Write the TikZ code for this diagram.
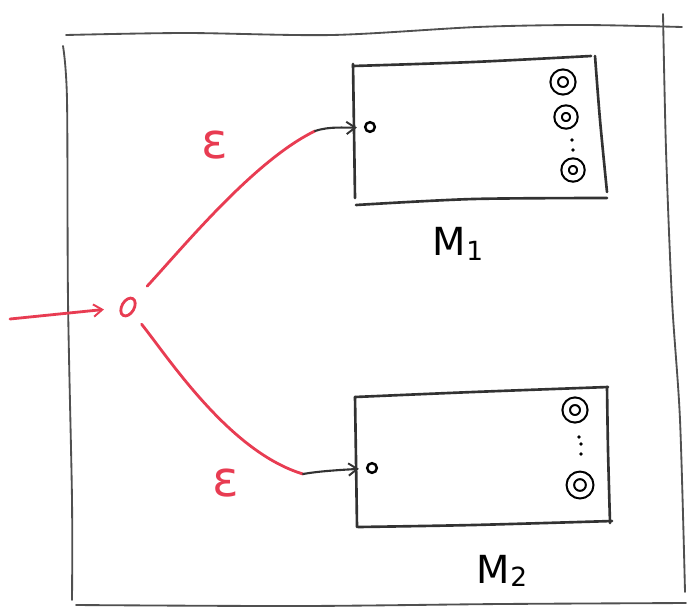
\documentclass[tikz,border=0pt]{standalone}
\usepackage{fontspec}
\setmainfont{DejaVu Sans}
\usetikzlibrary{arrows.meta,shapes.geometric}
\definecolor{inkgray}{RGB}{80,80,80}
\definecolor{boxink}{RGB}{50,50,50}
\definecolor{redpen}{RGB}{232,60,82}
\begin{document}
\begin{tikzpicture}[x=0.02cm,y=-0.02cm,
  frame/.style={draw=inkgray,line width=1.05pt,line cap=round,line join=round},
  machine/.style={draw=boxink,line width=1.5pt,line cap=round,line join=round},
  conn/.style={draw=boxink,line width=1.2pt,line cap=round},
  redink/.style={draw=redpen,line width=1.6pt,line cap=round},
  tip/.style={-{Straight Barb[length=5pt,width=7pt,line width=1.1pt]}},
  startst/.style={circle,draw=black,line width=1.4pt,inner sep=0pt,minimum size=5.5pt},
  acceptst/.style={circle,draw=black,line width=1.2pt,double=white,double distance=3pt,inner sep=0pt,minimum size=10pt},
  dotmark/.style={circle,fill=black,inner sep=0pt,minimum size=2.2pt},
  eps/.style={text=redpen,font=\fontsize{28}{30}\selectfont},
  mlabel/.style={text=black,font=\fontsize{22}{26}\selectfont}
]
\useasboundingbox (0,0) rectangle (688,609);

% outer frame of the combined machine
\draw[frame] plot[smooth] coordinates {(66,35) (186,33) (332,35) (477,27) (582,25) (682,27)};
\draw[frame] plot[smooth] coordinates {(663,14) (666,150) (672,300) (680,420) (685,592)};
\draw[frame] plot[smooth] coordinates {(63,46) (67,100) (68,300) (72,500) (72,600)};
\draw[frame] plot[smooth] coordinates {(76,605) (300,606) (500,604) (686,603)};

% machine M1
\draw[machine] plot[smooth] coordinates {(353,66) (473,62) (591,56)};
\draw[machine] plot[smooth] coordinates {(595,56) (600,120) (607,192)};
\draw[machine] plot[smooth] coordinates {(356,205) (473,199) (607,198)};
\draw[machine] plot[smooth] coordinates {(353,64) (354,130) (355,198)};

% machine M2
\draw[machine] plot[smooth] coordinates {(355,397) (473,392) (608,387)};
\draw[machine] plot[smooth] coordinates {(607,387) (608,450) (610,523)};
\draw[machine] plot[smooth] coordinates {(358,527) (473,525) (612,521)};
\draw[machine] plot[smooth] coordinates {(355,397) (356,460) (357,527)};

% states of M1
\node[startst] (s1) at (370,127) {};
\node[acceptst] (f11) at (563,82) {};
\node[acceptst,minimum size=9pt] (f12) at (566,117) {};
\node[dotmark] (d11) at (572,140) {};
\node[dotmark] (d12) at (573,150) {};
\node[acceptst,minimum size=9pt] (f13) at (573,170) {};

% states of M2
\node[startst] (s2) at (372,468) {};
\node[acceptst] (f21) at (575,410) {};
\node[dotmark] (d21) at (579,437) {};
\node[dotmark] (d22) at (581,444) {};
\node[dotmark] (d23) at (581,454) {};
\node[acceptst,minimum size=11pt] (f22) at (580,485) {};

% new start state
\node[ellipse,draw=redpen,line width=1.6pt,inner sep=0pt,minimum width=7pt,minimum height=11pt,rotate=-30] (q0) at (128,307) {};

% connector joints
\coordinate (in) at (10,319);
\coordinate (j1) at (315,131);
\coordinate (j2) at (303,474);

% epsilon transitions
\draw[redink,tip,shorten >=9pt] (in) -- (q0);
\draw[redink,shorten <=10pt] (q0) .. controls (185,245) and (255,160) .. (j1);
\draw[redink,shorten <=8pt] (q0) .. controls (170,360) and (230,452) .. (j2);
\draw[conn,tip,shorten >=4pt] (j1) .. controls (330,126) and (345,128) .. (s1);
\draw[conn,tip,shorten >=4pt] (j2) .. controls (320,471) and (340,470) .. (s2);

% labels
\node[eps] (eps1) at (215,145) {ε};
\node[eps] (eps2) at (226,483) {ε};
\node[mlabel] (m1) at (458,244) {M{\fontsize{15}{16}\selectfont\raisebox{-3pt}{1}}};
\node[mlabel] (m2) at (502,571) {M{\fontsize{15}{16}\selectfont\raisebox{-2pt}{2}}};
\end{tikzpicture}
\end{document}
